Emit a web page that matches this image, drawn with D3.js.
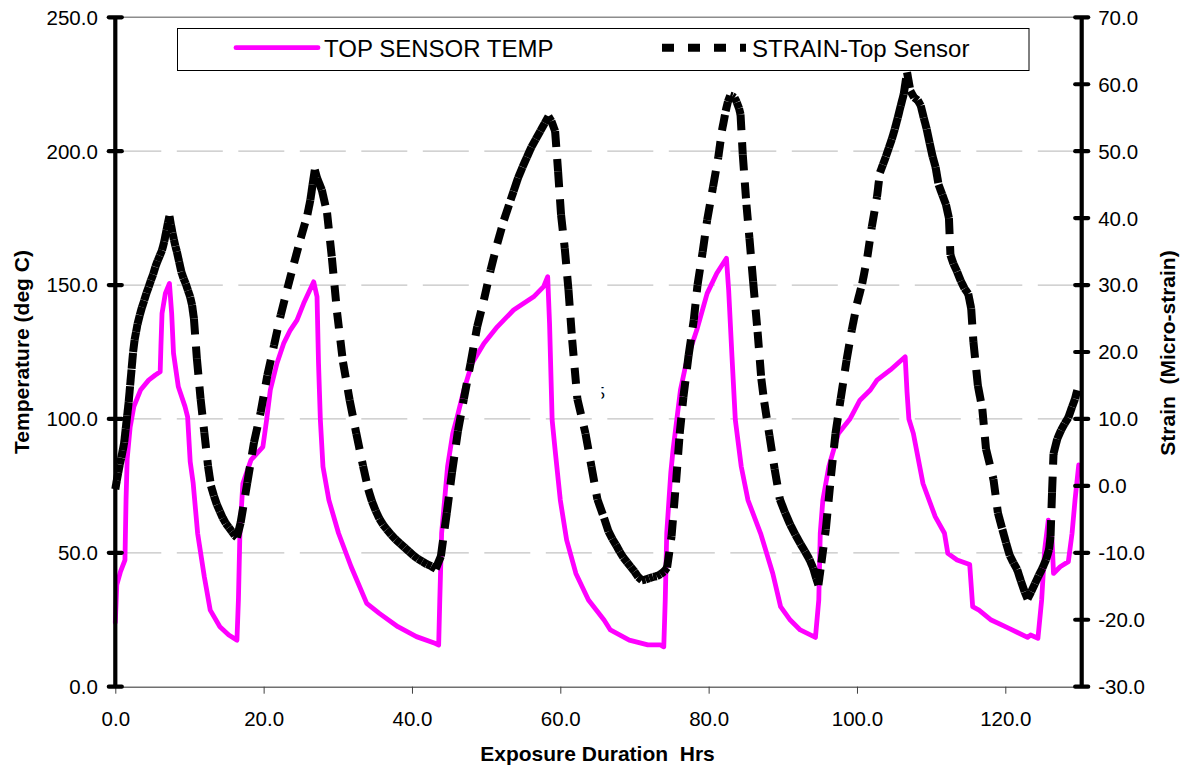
<!DOCTYPE html>
<html>
<head>
<meta charset="utf-8">
<script src="https://cdn.jsdelivr.net/npm/d3@7"></script>
<style>
  body { margin: 0; background: #fff; }
  text { font-family: "Liberation Sans", Arial, Helvetica, sans-serif; fill: #000; }
</style>
</head>
<body>
<svg id="chart" width="1180" height="767"></svg>
<script>
// ---- Data -------------------------------------------------------------
// Top sensor temperature (deg C) against exposure time (hours)
const tempHours = [
  0, 0.2, 0.7, 1.3, 1.45, 1.6, 2.0, 2.5, 3.4, 4.5, 5.4, 6.05, 6.15, 6.3, 6.75, 7.3, 7.6, 7.85, 8.5, 9.4,
  9.75, 10.1, 10.5, 11.1, 12.0, 12.8, 14.1, 15.3, 16.4, 16.6, 16.8, 17.2, 18.3, 19.9, 20.4, 20.9, 21.8, 22.7,
  23.6, 24.5, 25.4, 26.75, 27.2, 27.4, 27.65, 28.0, 28.8, 30.1, 31.8, 33.9, 35.6, 38.1, 40.6, 43.1, 43.6,
  43.75, 44.0, 44.8, 45.5, 46.1, 47.0, 48.1, 49.7, 51.5, 53.7, 56.4, 57.75, 58.3, 58.55, 58.9, 59.3, 60.0,
  60.85, 62.1, 63.8, 65.9, 66.75, 69.3, 71.8, 73.5, 73.95, 74.15, 74.35, 74.9, 75.2, 75.7, 76.2, 76.9, 77.5,
  78.4, 79.8, 81.1, 82.4, 82.7, 83.15, 83.6, 84.4, 85.3, 87.0, 88.65, 89.7, 91.0, 92.35, 94.4, 94.85, 95.05,
  95.4, 96.2, 97.5, 99.1, 100.4, 101.8, 102.7, 104.5, 106.5, 106.75, 107.0, 107.6, 108.9, 110.55, 111.8,
  112.25, 113.5, 115.2, 115.6, 116.45, 118.1, 120.5, 123.0, 123.4, 124.4, 124.9, 125.3, 125.8, 126.3, 126.5,
  127.4, 128.5, 129.0, 129.4, 129.9
];
const tempValues = [
  24, 38, 43, 47.3, 70, 85, 96.9, 104.6, 110.8, 114.5, 116.4, 117.6, 127, 139.4, 146.9, 150.6, 139.4, 124.5, 112, 104.6,
  100.8, 84, 76, 57.3, 41.1, 28.6, 22.4, 19.3, 17.4, 32.4, 57.3, 75.9, 84.7, 89.6, 99.6, 110.8, 120.8, 128.2,
  133.2, 136.9, 143.2, 151.2, 145.6, 120.8, 99.6, 82.2, 69.7, 57.3, 44.8, 31.1, 27.4, 22.4, 18.7, 16.2, 15.6,
  32.4, 57.3, 82.2, 94.6, 100.8, 110.8, 120.8, 128.2, 134.4, 140.7, 145.6, 149.4, 153.1, 135.7, 99.6, 88.4, 69.7,
  54.8, 42.3, 32.4, 24.9, 21.2, 17.4, 15.6, 15.6, 14.9, 32.4, 57.3, 80, 88.4, 99.6, 110.8, 120, 125.7,
  133.2, 146.9, 154.4, 160, 148.1, 123.2, 99.6, 82.2, 69.7, 57.3, 42.3, 29.9, 24.9, 21.2, 18.4, 32.4, 57.3,
  69.7, 82.2, 94.6, 100.2, 107, 110.8, 114.5, 118.3, 123.2, 110, 100, 94.6, 75.9, 63.5, 57.3,
  49.8, 47.3, 45.6, 29.9, 28.6, 24.9, 21.8, 18.4, 19.3, 18.1, 32.4, 51, 62.2, 54.8, 42.3,
  44.8, 46.7, 57.3, 69.7, 82.8
];

// Top sensor strain (micro-strain) against exposure time (hours)
const strainHours = [
  0, 0.2, 0.4, 0.6, 0.8, 1.0, 1.2, 1.4, 1.6, 1.8, 2.0, 2.2, 2.4, 2.6, 2.8, 3.0, 3.3, 3.6, 3.9, 4.2, 4.5,
  4.8, 5.1, 5.4, 5.7, 6.0, 6.3, 6.6, 6.9, 7.1, 7.3, 7.5, 7.7, 7.9, 8.1, 8.3, 8.6, 8.9, 9.2, 9.5, 9.8, 10.1, 10.35,
  10.6, 11.0, 11.5, 12.0, 12.5, 12.9, 13.3, 13.7, 14.1, 14.5, 14.9, 15.3, 15.7, 16.1, 16.4,
  16.9, 17.8, 18.7, 19.6, 20.5, 21.4, 22.3, 23.2, 24.1, 25.0, 25.9, 26.3, 26.6, 26.9,
  27.2, 27.85, 28.55, 29.2, 29.9, 30.7, 31.6, 32.5, 33.4, 34.1, 34.6, 35.1, 35.6, 36.1, 36.6, 37.2, 37.8,
  38.4, 39.0, 39.6, 40.2, 40.8, 41.4, 42.0, 42.6, 43.2,
  43.9, 44.7, 45.4, 46.2, 47.0, 47.9, 48.8, 49.7, 50.6, 51.5, 52.4, 53.3,
  53.7, 54.3, 54.9, 55.5, 56.1, 56.7, 57.3, 57.9, 58.4, 58.8, 59.3,
  59.7, 60.1, 60.6, 61.1, 61.6, 62.3, 63.4, 64.2, 65.0, 65.9,
  66.5, 67.0, 67.5, 68.0, 68.5, 69.0, 69.5, 70.0, 70.5, 71.0, 71.5, 72.0, 72.5, 73.0, 73.5, 74.0, 74.4,
  75.0, 75.6, 76.1, 76.6, 77.3, 78.0, 78.5, 79.2, 79.8, 80.6, 81.3, 81.8,
  82.3, 82.6, 82.9, 83.2, 83.5, 83.8, 84.1, 84.3,
  84.6, 85.1, 85.5, 86.0, 86.6, 87.1, 87.5, 88.2, 88.9,
  89.6, 90.3, 91.0, 91.7, 92.4, 93.0, 93.6, 94.1, 94.5, 94.8,
  95.2, 95.8, 96.5, 97.1, 97.8, 98.6, 99.3, 100.0, 100.7, 101.4, 102.0, 102.7,
  103.1, 103.5, 103.9, 104.3, 104.7, 105.1, 105.5, 105.9, 106.3, 106.75, 107.2, 107.7, 108.2, 108.6, 109.0,
  109.4, 109.8, 110.2, 110.6, 111.0, 111.5, 112.0, 112.4, 112.6, 113.0, 113.5, 114.0, 114.5, 115.0, 115.4,
  115.7, 116.3, 116.9, 117.4, 118.4, 119.0,
  119.6, 120.1, 120.6, 121.1, 121.6, 122.1, 122.6, 123.0, 123.5, 124.0, 124.5, 125.0, 125.5, 125.9,
  126.1, 126.3, 126.5, 127.0, 127.5, 128.0, 128.5, 129.0, 129.4, 129.7
];
const strainValues = [
  -0.5, 0.8, 2.0, 3.2, 4.2, 5.3, 6.5, 8.5, 10.5, 12.5, 15.0, 17.5, 20.0, 21.8, 23.0, 24.2, 25.5, 26.7, 27.7, 28.8, 29.7,
  30.7, 31.6, 32.7, 33.6, 34.4, 35.2, 36.5, 38.2, 39.3, 40.3, 39.0, 37.8, 36.8, 35.8, 35.0, 33.5, 32.0, 31.0, 30.2, 29.2, 28.2, 27.0,
  25.0, 19.0, 13.0, 8.0, 3.0, 0.0, -1.5, -2.8, -3.8, -4.8, -5.6, -6.2, -6.8, -7.4, -7.7,
  -5.5, 0.5, 6.5, 11.0, 16.5, 21.0, 25.5, 29.5, 33.3, 37.0, 40.5, 42.7, 45.0, 47.2,
  46.0, 44.2, 40.8, 34.1, 25.9, 18.5, 12.8, 7.8, 3.0, -0.5, -2.3, -3.7, -4.9, -5.8, -6.5, -7.3, -8.0,
  -8.6, -9.2, -9.8, -10.4, -10.9, -11.3, -11.7, -12.0, -12.4,
  -10.5, -4.0, 2.0, 8.2, 13.0, 18.3, 23.8, 27.8, 32.2, 36.2, 39.7, 42.7,
  44.0, 46.0, 47.6, 49.1, 50.6, 51.8, 53.0, 54.2, 55.2, 54.5, 53.0,
  47.0, 40.5, 35.5, 29.3, 21.8, 13.0, 7.8, 2.9, -2.0, -4.8,
  -6.8, -7.9, -8.8, -9.8, -10.7, -11.4, -12.1, -12.8, -13.6, -14.1, -14.0, -13.8, -13.6, -13.5, -13.2, -12.8, -12.2,
  -7.5, 0.5, 7.8, 13.3, 19.5, 24.8, 30.0, 35.0, 39.7, 44.7, 49.1, 53.1,
  56.0, 57.4, 58.3, 58.2, 58.0, 57.3, 56.4, 55.5,
  49.5, 42.0, 37.0, 30.5, 23.0, 16.0, 12.5, 7.5, 2.5,
  -2.0, -4.0, -5.8, -7.3, -8.7, -9.8, -11.0, -12.3, -13.8, -14.8,
  -11.5, -6.5, 1.5, 7.8, 13.0, 18.8, 23.3, 27.2, 30.2, 34.2, 38.7, 43.2,
  46.8, 48.0, 49.2, 50.5, 51.8, 53.3, 55.0, 56.8, 58.5, 61.8, 59.0, 58.0, 57.6, 56.8, 55.0,
  53.3, 51.2, 49.2, 47.6, 45.0, 43.5, 42.0, 40.0, 34.5, 33.2, 32.0, 30.6, 29.5, 28.7, 26.5,
  21.5, 15.0, 11.5, 5.5, 1.0, -4.0,
  -6.5, -8.5, -10.4, -11.5, -12.5, -14.2, -15.8, -16.9, -15.8, -14.6, -13.4, -12.3, -11.0, -9.5,
  -7.5, -1.0, 4.8, 7.0, 8.3, 9.3, 10.2, 11.8, 13.0, 14.3
];

// Axis ticks
const hourTicks = [0, 20, 40, 60, 80, 100, 120];
const tempTicks = [0, 50, 100, 150, 200, 250];
const strainTicks = [-30, -20, -10, 0, 10, 20, 30, 40, 50, 60, 70];
const gridTemps = [50, 100, 150, 200];

const seriesNames = ["TOP SENSOR TEMP", "STRAIN-Top Sensor"];
const xTitle = "Exposure Duration  Hrs";
const yLeftTitle = "Temperature (deg C)";
const yRightTitle = "Strain  (Micro-strain)";

// ---- Scales -----------------------------------------------------------
const plot = { left: 115.3, right: 1081.7, top: 17.3, bottom: 686.7 };
const svg = d3.select("#chart");
svg.append("rect").attr("width", 1180).attr("height", 767).attr("fill", "#fff");

const x = d3.scaleLinear().domain([0, 130.3]).range([plot.left, plot.right]);
const yTemp = d3.scaleLinear().domain([0, 250]).range([plot.bottom, plot.top]);
const yStrain = d3.scaleLinear().domain([-30, 70]).range([plot.bottom, plot.top]);
const fmt = d => d.toFixed(1);

// ---- Gridlines --------------------------------------------------------
svg.append("g").selectAll("line").data(gridTemps).join("line")
  .attr("x1", plot.left).attr("x2", plot.right)
  .attr("y1", d => yTemp(d)).attr("y2", d => yTemp(d))
  .attr("stroke", "#c4c4c4").attr("stroke-width", 1.2)
  .attr("stroke-dasharray", "46,15.5");

// top border of plot area
svg.append("line")
  .attr("x1", plot.left).attr("x2", plot.right)
  .attr("y1", plot.top).attr("y2", plot.top)
  .attr("stroke", "#8c8c8c").attr("stroke-width", 1.5);

// ---- Bottom axis ------------------------------------------------------
const xAxis = svg.append("g")
  .attr("transform", `translate(0,${plot.bottom})`)
  .call(d3.axisBottom(x).tickValues(hourTicks).tickFormat(fmt).tickSize(7).tickSizeOuter(0));
xAxis.select(".domain").attr("stroke", "#707070").attr("stroke-width", 1.6);
xAxis.selectAll(".tick line").attr("stroke", "#404040").attr("stroke-width", 1);
xAxis.selectAll(".tick text")
  .attr("y", 0).attr("dy", 0).attr("transform", "translate(0,39)")
  .style("font-size", "20.5px").style("font-family", '"Liberation Sans", Arial, sans-serif');

// ---- Series: temperature ---------------------------------------------
const tempPts = tempHours.map((h, i) => [h, tempValues[i]]);
const tempLine = d3.line().x(d => x(d[0])).y(d => yTemp(d[1]));
svg.append("path").datum(tempPts)
  .attr("d", tempLine)
  .attr("fill", "none").attr("stroke", "#ff00ff").attr("stroke-width", 4.8)
  .attr("stroke-linejoin", "round").attr("stroke-linecap", "round");

// ---- Series: strain (dash pattern restarts at every reading) ---------
const strainPts = strainHours.map((h, i) => [h, strainValues[i]]);
svg.append("g").selectAll("line").data(d3.pairs(strainPts)).join("line")
  .attr("x1", d => x(d[0][0])).attr("y1", d => yStrain(d[0][1]))
  .attr("x2", d => x(d[1][0])).attr("y2", d => yStrain(d[1][1]))
  .attr("stroke", "#000").attr("stroke-width", 8)
  .attr("stroke-dasharray", "16,12").attr("stroke-linecap", "butt");

// ---- Left & right axes ------------------------------------------------
function valueAxis(scale, ticks, xPos, side) {
  const g = svg.append("g");
  g.append("line")
    .attr("x1", xPos).attr("x2", xPos)
    .attr("y1", plot.top).attr("y2", plot.bottom)
    .attr("stroke", "#000").attr("stroke-width", 4.2);
  g.selectAll("line.tk").data(ticks).join("line").attr("class", "tk")
    .attr("x1", xPos - 6.5).attr("x2", xPos + 6.5)
    .attr("y1", d => scale(d)).attr("y2", d => scale(d))
    .attr("stroke", "#000").attr("stroke-width", 4.2).attr("stroke-linecap", "round");
  g.selectAll("text").data(ticks).join("text")
    .attr("x", side === "left" ? xPos - 17.5 : xPos + 16.5)
    .attr("y", d => scale(d)).attr("dy", "0.36em")
    .attr("text-anchor", side === "left" ? "end" : "start")
    .style("font-size", "20.5px")
    .text(fmt);
}
valueAxis(yTemp, tempTicks, plot.left, "left");
valueAxis(yStrain, strainTicks, plot.right, "right");

// ---- Axis titles ------------------------------------------------------
svg.append("text")
  .attr("transform", "translate(28.5,352) rotate(-90)")
  .attr("text-anchor", "middle")
  .style("font-size", "21px").style("font-weight", "bold").style("white-space", "pre")
  .text(yLeftTitle);
svg.append("text")
  .attr("transform", "translate(1175,353) rotate(-90)")
  .attr("text-anchor", "middle")
  .style("font-size", "21px").style("font-weight", "bold").style("white-space", "pre")
  .text(yRightTitle);
svg.append("text")
  .attr("x", 597.5).attr("y", 761)
  .attr("text-anchor", "middle")
  .style("font-size", "21px").style("font-weight", "bold").style("white-space", "pre")
  .text(xTitle);

// clipped stray data label inside the plot
svg.append("clipPath").attr("id", "lblclip")
  .append("rect").attr("x", 601.5).attr("y", 380).attr("width", 20).attr("height", 25);
svg.append("text")
  .attr("x", 596).attr("y", 399)
  .attr("clip-path", "url(#lblclip)")
  .style("font-size", "16px")
  .text("5");

// ---- Legend -----------------------------------------------------------
const legend = svg.append("g");
legend.append("rect")
  .attr("x", 177.5).attr("y", 28.5).attr("width", 851.5).attr("height", 42)
  .attr("fill", "#fff").attr("stroke", "#000").attr("stroke-width", 1);
legend.append("line")
  .attr("x1", 236).attr("x2", 318).attr("y1", 47.7).attr("y2", 47.7)
  .attr("stroke", "#ff00ff").attr("stroke-width", 4.8).attr("stroke-linecap", "round");
legend.append("text").attr("x", 324).attr("y", 57)
  .style("font-size", "24px").text(seriesNames[0]);
legend.append("line")
  .attr("x1", 662).attr("x2", 746).attr("y1", 47.7).attr("y2", 47.7)
  .attr("stroke", "#000").attr("stroke-width", 8)
  .attr("stroke-dasharray", "12,14");
legend.append("text").attr("x", 752).attr("y", 57)
  .style("font-size", "24px").text(seriesNames[1]);
</script>
</body>
</html>
